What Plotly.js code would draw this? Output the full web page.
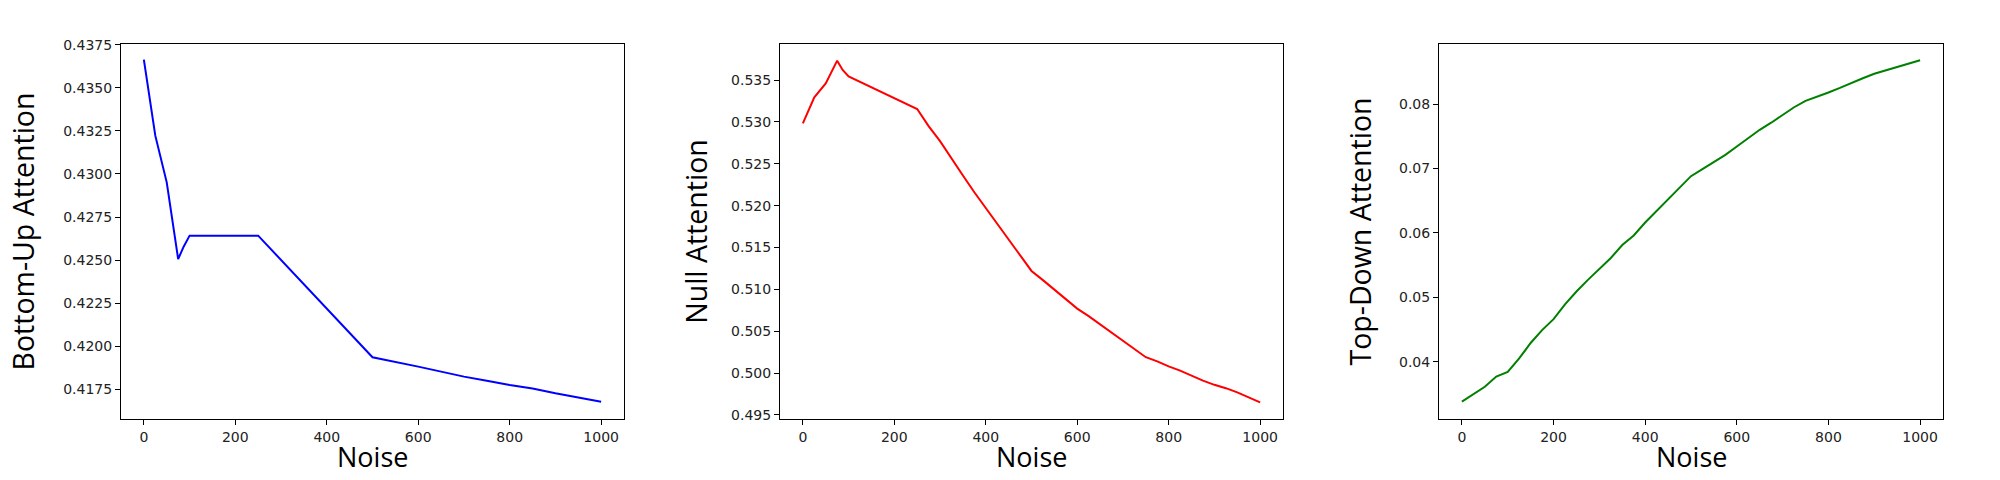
<!DOCTYPE html>
<html>
<head>
<meta charset="utf-8">
<script src="https://cdn.plot.ly/plotly-3.0.1.min.js"></script>
<style>html,body{margin:0;padding:0;background:#fff;}#chart{width:2000px;height:480px;}</style>
</head>
<body>
<div id="chart"></div>
<script>
// Bottom-Up attention
const bottomUpNoise = [0, 25, 50, 75, 87, 100, 250, 325, 400, 450, 500, 600, 700, 750, 800, 850, 900, 1000];
const bottomUpValues = [0.43663, 0.43222, 0.42951, 0.42506, 0.42578, 0.42642, 0.42642, 0.42432, 0.42220, 0.42082, 0.41936, 0.41882, 0.41824, 0.41800, 0.41775, 0.41755, 0.41727, 0.41678];

// Null attention
const nullNoise = [0, 25, 50, 75, 87, 100, 250, 275, 300, 325, 350, 375, 400, 425, 450, 475, 500, 525, 550, 575, 600, 625, 650, 675, 700, 725, 750, 775, 800, 825, 850, 875, 900, 925, 950, 975, 1000];
const nullValues = [0.52983, 0.53293, 0.53460, 0.53731, 0.53620, 0.53544, 0.53154, 0.52950, 0.52770, 0.52560, 0.52360, 0.52160, 0.51970, 0.51780, 0.51590, 0.51400, 0.51220, 0.51110, 0.51000, 0.50880, 0.50770, 0.50680, 0.50580, 0.50490, 0.50390, 0.50280, 0.50190, 0.50140, 0.50080, 0.50030, 0.49970, 0.49910, 0.49860, 0.49820, 0.49770, 0.49710, 0.49650];

// Top-Down attention
const topDownNoise = [0, 25, 50, 75, 100, 125, 150, 175, 200, 225, 250, 275, 300, 325, 350, 375, 400, 425, 450, 475, 500, 525, 550, 575, 600, 625, 650, 675, 700, 725, 750, 775, 800, 825, 850, 875, 900, 925, 950, 975, 1000];
const topDownValues = [0.0338, 0.0350, 0.0361, 0.0377, 0.0384, 0.0405, 0.0429, 0.0449, 0.0466, 0.0489, 0.0509, 0.0527, 0.0544, 0.0561, 0.0581, 0.0596, 0.0616, 0.0634, 0.0653, 0.0671, 0.0688, 0.0699, 0.0710, 0.0721, 0.0734, 0.0747, 0.0760, 0.0771, 0.0783, 0.0795, 0.0805, 0.0811, 0.0818, 0.0825, 0.0833, 0.0840, 0.0847, 0.0852, 0.0857, 0.0862, 0.0868];

const xTicks = [0, 200, 400, 600, 800, 1000];
const yTicks1 = [0.4175, 0.4200, 0.4225, 0.4250, 0.4275, 0.4300, 0.4325, 0.4350, 0.4375];
const yTicks2 = [0.495, 0.500, 0.505, 0.510, 0.515, 0.520, 0.525, 0.530, 0.535];
const yTicks3 = [0.04, 0.05, 0.06, 0.07, 0.08];

const xTitle = 'Noise';
const yTitles = ['Bottom-Up Attention', 'Null Attention', 'Top-Down Attention'];

const W = 2000, H = 480;
const yDom = [1 - 419 / H, 1 - 44 / H];
const panels = [[121, 624], [780, 1283], [1439, 1943]];

const tickFont = {family: 'DejaVu Sans', size: 14, color: '#222'};

function xAxis(p, anchor) {
  return {
    domain: [p[0] / W, p[1] / W], anchor: anchor, range: [-50, 1050],
    tickvals: xTicks, ticks: 'outside', ticklen: 5, tickwidth: 1, tickcolor: '#000',
    showline: true, linecolor: '#000', linewidth: 1, mirror: true,
    showgrid: false, zeroline: false, tickfont: tickFont
  };
}
function yAxis(range, ticks, fmt, anchor, title, size, standoff) {
  return {
    domain: yDom, anchor: anchor, range: range,
    tickvals: ticks, tickformat: fmt, ticks: 'outside', ticklen: 5, tickwidth: 1, tickcolor: '#000',
    showline: true, linecolor: '#000', linewidth: 1, mirror: true,
    showgrid: false, zeroline: false, tickfont: tickFont,
    title: {text: title, font: {family: 'Open Sans', size: size, color: '#000'}, standoff: standoff}
  };
}

const traces = [
  {x: bottomUpNoise, y: bottomUpValues, type: 'scatter', mode: 'lines', line: {color: '#0000ff', width: 2}, xaxis: 'x', yaxis: 'y'},
  {x: nullNoise, y: nullValues, type: 'scatter', mode: 'lines', line: {color: '#ff0000', width: 2}, xaxis: 'x2', yaxis: 'y2'},
  {x: topDownNoise, y: topDownValues, type: 'scatter', mode: 'lines', line: {color: '#008000', width: 2}, xaxis: 'x3', yaxis: 'y3'}
];

const annotations = panels.map(p => ({
  text: xTitle, xref: 'paper', yref: 'paper',
  x: (p[0] + p[1]) / 2 / W, y: 1 - 456 / H, xanchor: 'center', yanchor: 'middle',
  showarrow: false, font: {family: 'Open Sans', size: 27, color: '#000'}
}));

const layout = {
  width: W, height: H,
  margin: {l: 0, r: 0, t: 0, b: 0},
  paper_bgcolor: '#fff', plot_bgcolor: '#fff',
  showlegend: false,
  xaxis: xAxis(panels[0], 'y'),
  yaxis: yAxis([0.41578, 0.43754], yTicks1, '.4f', 'x', yTitles[0], 28.5, 20),
  xaxis2: xAxis(panels[1], 'y2'),
  yaxis2: yAxis([0.49452, 0.53930], yTicks2, '.3f', 'x2', yTitles[1], 28.5, 15),
  xaxis3: xAxis(panels[2], 'y3'),
  yaxis3: yAxis([0.03110, 0.08932], yTicks3, '.2f', 'x3', yTitles[2], 28.5, 19),
  annotations: annotations
};

Plotly.newPlot('chart', traces, layout, {staticPlot: true, displayModeBar: false});
</script>
</body>
</html>
